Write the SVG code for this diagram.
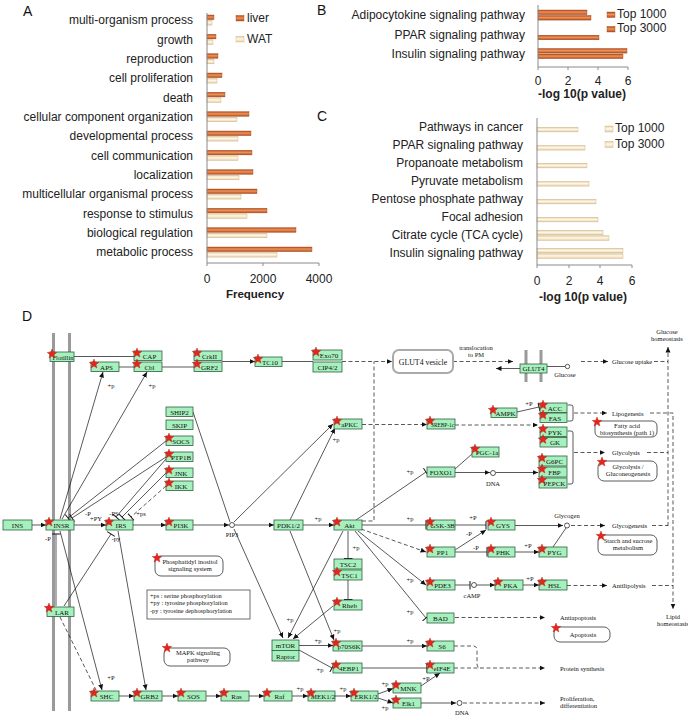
<svg xmlns="http://www.w3.org/2000/svg" width="688" height="720" viewBox="0 0 688 720">
<defs>
<linearGradient id="gL" x1="0" y1="0" x2="0" y2="1"><stop offset="0" stop-color="#B24A1C"/><stop offset="0.45" stop-color="#EE9459"/><stop offset="1" stop-color="#B24A1C"/></linearGradient>
<linearGradient id="gW" x1="0" y1="0" x2="0" y2="1"><stop offset="0" stop-color="#E6CFA2"/><stop offset="0.45" stop-color="#FFF8EA"/><stop offset="1" stop-color="#E6CFA2"/></linearGradient>
<marker id="a" viewBox="0 0 10 10" refX="10" refY="5" markerWidth="5.5" markerHeight="5.5" markerUnits="userSpaceOnUse" orient="auto"><path d="M0,0.5 L10,5 L0,9.5 z" fill="#111"/></marker>
<marker id="b" viewBox="0 0 10 10" refX="5" refY="5" markerWidth="9" markerHeight="9" markerUnits="userSpaceOnUse" orient="auto"><path d="M5,0 V10" stroke="#111" stroke-width="1.1"/></marker>
<path id="st" d="M0,-5 L1.23,-1.69 L4.76,-1.55 L1.99,0.65 L2.94,4.05 L0,2.1 L-2.94,4.05 L-1.99,0.65 L-4.76,-1.55 L-1.23,-1.69 Z" fill="#E8251B" stroke="#B41410" stroke-width="0.4"/>
</defs>
<style>
.lab{font-family:"Liberation Sans",Arial,sans-serif;font-size:12px;fill:#222}
.end{text-anchor:end}
.mid{text-anchor:middle}
.ttl{font-family:"Liberation Sans",Arial,sans-serif;font-size:14px;fill:#111}
.bold{font-weight:bold}
.ax{stroke:#8a8a8a;stroke-width:1;fill:none}
.lv{fill:url(#gL);stroke:#A3451C;stroke-width:0.4}
.wt{fill:url(#gW);stroke:#C4AD84;stroke-width:0.4}
.nd rect{fill:#A6F0BE;stroke:#2F5F3F;stroke-width:0.8}
.nd text{font-family:"Liberation Serif","Times New Roman",serif;font-size:7px;fill:#111;text-anchor:middle}
.t{font-family:"Liberation Serif","Times New Roman",serif;font-size:6.5px;fill:#111;text-anchor:middle}
.ts{text-anchor:start}
.e{stroke:#111;stroke-width:0.7;fill:none}
.d{stroke-dasharray:4 2.5}
.ar{marker-end:url(#a)}
.tb{marker-end:url(#b)}
.c{fill:#fff;stroke:#111;stroke-width:0.7}
.mem{stroke:#9a9a9a;stroke-width:3}
.ann rect{fill:#fff;stroke:#333;stroke-width:0.8}
.ann text{font-family:"Liberation Serif","Times New Roman",serif;font-size:6.5px;fill:#111;text-anchor:middle}
</style>
<rect width="688" height="720" fill="#fff"/>

<!-- Panel A -->
<g id="chartA">
<text class="ttl" x="23" y="16">A</text>
<g class="lab end">
<text x="193" y="24.2">multi-organism process</text>
<text x="193" y="43.5">growth</text>
<text x="193" y="62.9">reproduction</text>
<text x="193" y="82.2">cell proliferation</text>
<text x="193" y="101.5">death</text>
<text x="193" y="120.9">cellular component organization</text>
<text x="193" y="140.2">developmental process</text>
<text x="193" y="159.5">cell communication</text>
<text x="193" y="178.9">localization</text>
<text x="193" y="198.2">multicellular organismal process</text>
<text x="193" y="217.5">response to stimulus</text>
<text x="193" y="236.9">biological regulation</text>
<text x="193" y="256.2">metabolic process</text>
</g>
<g>
<rect class="lv" x="207" y="15" width="7" height="4.6"/><rect class="wt" x="207" y="20.5" width="5" height="4.6"/>
<rect class="lv" x="207" y="34.3" width="9" height="4.6"/><rect class="wt" x="207" y="39.8" width="6" height="4.6"/>
<rect class="lv" x="207" y="53.7" width="11" height="4.6"/><rect class="wt" x="207" y="59.2" width="7" height="4.6"/>
<rect class="lv" x="207" y="73" width="15" height="4.6"/><rect class="wt" x="207" y="78.5" width="10" height="4.6"/>
<rect class="lv" x="207" y="92.3" width="18" height="4.6"/><rect class="wt" x="207" y="97.8" width="14" height="4.6"/>
<rect class="lv" x="207" y="111.7" width="42" height="4.6"/><rect class="wt" x="207" y="117.2" width="30" height="4.6"/>
<rect class="lv" x="207" y="131" width="44" height="4.6"/><rect class="wt" x="207" y="136.5" width="31" height="4.6"/>
<rect class="lv" x="207" y="150.3" width="45" height="4.6"/><rect class="wt" x="207" y="155.8" width="31" height="4.6"/>
<rect class="lv" x="207" y="169.7" width="46" height="4.6"/><rect class="wt" x="207" y="175.2" width="32" height="4.6"/>
<rect class="lv" x="207" y="189" width="50" height="4.6"/><rect class="wt" x="207" y="194.5" width="34" height="4.6"/>
<rect class="lv" x="207" y="208.3" width="60" height="4.6"/><rect class="wt" x="207" y="213.8" width="40" height="4.6"/>
<rect class="lv" x="207" y="227.7" width="89" height="4.6"/><rect class="wt" x="207" y="233.2" width="60" height="4.6"/>
<rect class="lv" x="207" y="247" width="105" height="4.6"/><rect class="wt" x="207" y="252.5" width="70" height="4.6"/>
</g>
<path class="ax" d="M207,13 V263 H319 M263,263 V266 M319,263 V266 M207,263 V266"/>
<g class="lab mid">
<text x="207" y="283">0</text><text x="263" y="283">2000</text><text x="319" y="283">4000</text>
<text class="bold" x="255" y="298" style="font-size:11.5px">Frequency</text>
</g>
<rect class="lv" x="236" y="15.5" width="8" height="5.5"/><text class="lab" x="247" y="22">liver</text>
<rect class="wt" x="236" y="36.5" width="8" height="5.5"/><text class="lab" x="247" y="43">WAT</text>
</g>

<!-- Panel B -->
<g id="chartB">
<text class="ttl" x="317" y="15">B</text>
<g class="lab end">
<text x="525" y="19">Adipocytokine signaling pathway</text>
<text x="525" y="39">PPAR signaling pathway</text>
<text x="525" y="58">Insulin signaling pathway</text>
</g>
<rect class="lv" x="538" y="10" width="49" height="4.6"/><rect class="lv" x="538" y="15.5" width="53" height="4.6"/>
<rect class="lv" x="538" y="35.2" width="61" height="4.6"/>
<rect class="lv" x="538" y="48.5" width="89" height="4.6"/><rect class="lv" x="538" y="54" width="85" height="4.6"/>
<path class="ax" d="M538,5 V67 H628 M538,67 V70 M568,67 V70 M598,67 V70 M628,67 V70"/>
<g class="lab mid">
<text x="538" y="85">0</text><text x="568" y="85">2</text><text x="598" y="85">4</text><text x="628" y="85">6</text>
<text class="bold" x="582" y="98">-log 10(p value)</text>
</g>
<rect class="lv" x="607" y="12" width="8" height="5.5"/><text class="lab" x="617" y="18">Top 1000</text>
<rect class="lv" x="607" y="26.5" width="8" height="5.5"/><text class="lab" x="617" y="32">Top 3000</text>
</g>

<!-- Panel C -->
<g id="chartC">
<text class="ttl" x="317" y="121">C</text>
<g class="lab end">
<text x="523" y="131">Pathways in cancer</text>
<text x="523" y="149">PPAR signaling pathway</text>
<text x="523" y="167">Propanoate metabolism</text>
<text x="523" y="185">Pyruvate metabolism</text>
<text x="523" y="203">Pentose phosphate pathway</text>
<text x="523" y="221">Focal adhesion</text>
<text x="523" y="239">Citrate cycle (TCA cycle)</text>
<text x="523" y="257">Insulin signaling pathway</text>
</g>
<rect class="wt" x="537" y="127.3" width="41" height="4.6"/>
<rect class="wt" x="537" y="145.5" width="48" height="4.6"/>
<rect class="wt" x="537" y="163.3" width="50" height="4.6"/>
<rect class="wt" x="537" y="181.5" width="52" height="4.6"/>
<rect class="wt" x="537" y="199.3" width="59" height="4.6"/>
<rect class="wt" x="537" y="217.3" width="61" height="4.6"/>
<rect class="wt" x="537" y="230.3" width="66" height="4.6"/><rect class="wt" x="537" y="235.8" width="72" height="4.6"/>
<rect class="wt" x="537" y="248.3" width="86" height="4.6"/><rect class="wt" x="537" y="253.8" width="86" height="4.6"/>
<path class="ax" d="M537,118 V265 H632 M537,265 V268 M569,265 V268 M600,265 V268 M632,265 V268"/>
<g class="lab mid">
<text x="537" y="285">0</text><text x="569" y="285">2</text><text x="600" y="285">4</text><text x="632" y="285">6</text>
<text class="bold" x="583" y="301">-log 10(p value)</text>
</g>
<rect class="wt" x="605" y="126" width="8" height="6"/><text class="lab" x="615" y="132">Top 1000</text>
<rect class="wt" x="605" y="141.5" width="8" height="6"/><text class="lab" x="615" y="148">Top 3000</text>
</g>

<!-- Panel D -->
<text class="ttl" x="22" y="321">D</text>
<g id="membranes">
<path class="mem" d="M53.5,333 V711 M69.5,333 V711"/>
<path class="mem" d="M526,350 V382 M541,350 V382"/>
</g>

<g id="connectors">
<path class="e" d="M74,356.5 H134"/>
<path class="e" d="M119,367 H134"/>
<path class="e" d="M162,367 H194"/>
<path class="e ar" d="M222,361.5 H255"/>
<path class="e" d="M282,361.5 H313"/>
<path class="e d ar" d="M342,361.5 H392"/>
<path class="e d ar" d="M453,361.5 H513"/>
<path class="e ar" d="M520,368.5 H496"/>
<path class="e" d="M547,366.5 H565"/>
<circle class="c" cx="567.5" cy="366.5" r="2.2"/>
<path class="e d ar" d="M581,361.5 H608"/>
<path class="e d" d="M654,361.5 H668"/>
<path class="e d ar" d="M668,526 V347"/>
<path class="e d ar" d="M574,413 H607"/>
<path class="e d ar" d="M650,413 H673 V609"/>
<path class="e" d="M567.5,405 H571 Q573,405 573,407 V419 Q573,421 571,421 H567.5"/>
<path class="e" d="M567.5,431 H571 Q573,431 573,433 V482 Q573,484 571,484 H567.5"/>
<path class="e d ar" d="M574,452.5 H605"/>
<path class="e d" d="M647,452.5 H668"/>
<path class="e d ar" d="M571,525.5 H605"/>
<path class="e d" d="M652,525.5 H668"/>

<path class="e ar" d="M60,519 L103,372"/>
<path class="e ar" d="M62,519 L147,372"/>
<text class="t" x="111" y="388">+p</text>
<text class="t" x="152" y="388">+p</text>

<path class="e tb" d="M166,441 L68,518"/>
<path class="e tb" d="M166,457 L72,518"/>
<path class="e tb" d="M166,459 L116,517"/>
<path class="e tb" d="M166,473 L122,517"/>
<path class="e d tb" d="M166,486 L131,517"/>
<path class="e" d="M193,412 L230,522"/>
<text class="t" x="88" y="516">-P</text>
<text class="t" x="96" y="521">+PY</text>
<text class="t" x="114" y="516">-PS</text>
<text class="t" x="141" y="516">+ps</text>

<path class="e ar" d="M32,525 H46"/>
<path class="e ar" d="M74,525 H106"/>
<path class="e ar" d="M133,525 H166"/>
<path class="e ar" d="M193,525 H229"/>
<circle class="c" cx="232" cy="525" r="2.5"/>
<text class="t" x="232" y="537">PIP3</text>
<path class="e ar" d="M235,525 H274"/>
<path class="e ar" d="M303,525 H334"/>
<text class="t" x="318" y="521">+p</text>
<path class="e ar" d="M234,522 L333,424"/>
<path class="e ar" d="M290,520 L335,428"/>
<text class="t" x="336" y="442">+p</text>
<path class="e d" d="M362,521 H374 V361.5"/>
<path class="e d ar" d="M362,424.5 H427"/>
<path class="e d ar" d="M455,425 H538"/>
<path class="e tb" d="M517,412 L539,407"/>
<text class="t" x="529" y="406">+P</text>

<path class="e tb" d="M356,520 L426,472"/>
<text class="t" x="410" y="474">+p</text>
<path class="e ar" d="M455,472.5 H490"/>
<circle class="c" cx="493" cy="473" r="2.5"/>
<text class="t" x="493" y="486">DNA</text>
<path class="e ar" d="M496,472.5 H538"/>
<path class="e" d="M455,469 L472,454"/>
<path class="e tb" d="M362,525 H426"/>
<text class="t" x="410" y="521">+p</text>
<path class="e tb" d="M455,525 H486"/>
<text class="t" x="473" y="520">+P</text>
<path class="e d ar" d="M361,529 L426,552"/>
<path class="e ar" d="M455,550 L486,530"/>
<text class="t" x="469" y="536">-P</text>
<path class="e tb" d="M455,552 H487"/>
<text class="t" x="476" y="550">-P</text>
<path class="e ar" d="M515,552 H539"/>
<text class="t" x="528" y="548">+P</text>
<path class="e ar" d="M515,525.5 H563"/>
<circle class="c" cx="567" cy="525.5" r="2.5"/>
<text class="t" x="567" y="518">Glycogen</text>
<path class="e" d="M553,547 L566,528"/>

<path class="e ar" d="M358,531 L426,585"/>
<text class="t" x="410" y="582">+p</text>
<path class="e tb" d="M355,531 L426,618"/>
<text class="t" x="410" y="614">+p</text>
<path class="e tb" d="M348,531 V558.5"/>
<text class="t" x="356" y="550">+p</text>
<path class="e tb" d="M348,580 V599.5"/>

<path class="e tb" d="M455,585 H470"/>
<circle class="c" cx="474" cy="585" r="2.5"/>
<text class="t" x="472" y="598">cAMP</text>
<path class="e ar" d="M477,585 H495"/>
<path class="e ar" d="M523,585 H539"/>
<text class="t" x="530" y="581">+P</text>
<path class="e d ar" d="M567,585.5 H607"/>
<path class="e d" d="M652,585.5 H673"/>
<path class="e d ar" d="M455,617.5 H545"/>

<path class="e ar" d="M234,529 L283,638"/>
<path class="e ar" d="M343,531 L288,638"/>
<path class="e ar" d="M333,606 L293,639"/>
<text class="t" x="290" y="622">+p</text>
<path class="e ar" d="M290,531 L334,640"/>
<text class="t" x="337" y="633">+p</text>
<path class="e ar" d="M299,645.5 H333"/>
<text class="t" x="318" y="643">+p</text>
<path class="e tb" d="M299,650 L332,668"/>
<text class="t" x="320" y="672">+p</text>
<path class="e ar" d="M362,646 H427"/>
<text class="t" x="410" y="643">+p</text>
<path class="e tb" d="M362,668 H427"/>
<path class="e d" d="M454,646 H473 Q477,646 477,650 V664 Q477,668 481,668"/>
<path class="e d ar" d="M454,668 H545"/>
<path class="e ar" d="M421,686 L440,673"/>
<text class="t" x="426" y="681">+P</text>

<path class="e ar" d="M119,696 H134"/>
<path class="e ar" d="M162,696 H178"/>
<path class="e ar" d="M206,696 H221"/>
<path class="e ar" d="M249,696 H264"/>
<path class="e ar" d="M292,696 H308"/>
<text class="t" x="300" y="691">+p</text>
<path class="e ar" d="M335,696 H351"/>
<text class="t" x="343" y="691">+p</text>
<path class="e ar" d="M378,694 L393,688.5"/>
<text class="t" x="385" y="686">+p</text>
<path class="e ar" d="M378,698 L393,703"/>
<text class="t" x="385" y="710">+p</text>
<path class="e ar" d="M421,703 H456"/>
<circle class="c" cx="459.5" cy="703" r="2.5"/>
<text class="t" x="462" y="715">DNA</text>
<path class="e d ar" d="M463,703 H545"/>

<path class="e ar" d="M60,531 L102,690"/>
<text class="t" x="111" y="680">+P</text>
<path class="e ar" d="M118,531 L146,690"/>
<path class="e tb" d="M56,606 V534"/>
<text class="t" x="48" y="541">-P</text>
<path class="e tb" d="M64,606 L111,534"/>
<text class="t" x="116" y="541">-py</text>
<path class="e d" d="M60,617 L96,690"/>
</g>

<g id="texts">
<text class="t" x="476" y="350">translocation</text>
<text class="t" x="476" y="357">to PM</text>
<text class="t" x="565" y="377">Glucose</text>
<text class="t ts" x="612" y="364">Glucose uptake</text>
<text class="t" x="667" y="334">Glucose</text>
<text class="t" x="667" y="341">homeostasis</text>
<text class="t ts" x="612" y="415.5">Lipogenesis</text>
<text class="t ts" x="612" y="455">Glycolysis</text>
<text class="t ts" x="612" y="528">Glycogenesis</text>
<text class="t ts" x="612" y="588">Antilipolysis</text>
<text class="t" x="673" y="619">Lipid</text>
<text class="t" x="673" y="626">homeostasis</text>
<text class="t ts" x="560" y="620">Antiapoptosis</text>
<text class="t ts" x="560" y="671">Protein synthesis</text>
<text class="t ts" x="560" y="701">Proliferation,</text>
<text class="t ts" x="560" y="708">differentiation</text>
</g>

<g id="annotations">
<g id="pis" class="ann"><rect x="155" y="556" width="68" height="20" rx="6"/><text x="190" y="564">Phosphatidyl inositol</text><text x="190" y="571">signaling system</text><use href="#st" x="157" y="558"/></g>
<g id="mapk" class="ann"><rect x="164" y="648" width="66" height="18" rx="6"/><text x="198" y="655">MAPK signaling</text><text x="198" y="662">pathway</text><use href="#st" x="167" y="648"/></g>
<g id="glyco" class="ann"><rect x="598" y="461" width="59" height="20" rx="6"/><text x="628" y="469">Glycolysis /</text><text x="628" y="476">Gluconeogenesis</text><use href="#st" x="602" y="462"/></g>
<g id="fab" class="ann"><rect x="595" y="421" width="62" height="16" rx="5"/><text x="627" y="428">Fatty acid</text><text x="627" y="434.5">biosynthesis (path 1)</text><use href="#st" x="597" y="422"/></g>
<g id="starch" class="ann"><rect x="598" y="535" width="59" height="20" rx="6"/><text x="628" y="543">Starch and sucrose</text><text x="628" y="550">metabolism</text><use href="#st" x="601" y="536"/></g>
<g id="apop" class="ann"><rect x="554" y="627" width="56" height="15" rx="6"/><text x="583" y="637">Apoptosis</text><use href="#st" x="556" y="628"/></g>
<g id="glut4ves"><rect x="393" y="350" width="60" height="23" rx="6" fill="#fff" stroke="#aaa" stroke-width="2"/><text class="t" x="423" y="364.5" style="font-size:7.8px">GLUT4 vesicle</text></g>
<g id="legend"><rect x="147" y="590" width="103" height="29" fill="#fff" stroke="#333" stroke-width="0.7"/>
<text class="t ts" x="150" y="598" style="font-size:6.3px">+ps : serine phosphorylation</text>
<text class="t ts" x="150" y="605" style="font-size:6.3px">+py : tyrosine phosphorylation</text>
<text class="t ts" x="150" y="612.5" style="font-size:6.3px">-py : tyrosine dephosphorylation</text></g>
</g>

<g id="nodes">
<g id="Flotillin" class="nd"><rect x="50" y="352" width="24" height="9.5"/><text x="63" y="359.5" textLength="21" lengthAdjust="spacingAndGlyphs">Flotillin</text><use href="#st" x="52" y="354"/></g>
<g id="APS" class="nd"><rect x="91" y="362" width="28" height="9.5"/><text x="106.5" y="369.5">APS</text><use href="#st" x="94" y="364"/></g>
<g id="CAP" class="nd"><rect x="134" y="351" width="28" height="9.5"/><text x="149.5" y="358.5">CAP</text><use href="#st" x="137" y="353"/></g>
<g id="Cbl" class="nd"><rect x="134" y="362" width="28" height="9.5"/><text x="149.5" y="369.5">Cbl</text><use href="#st" x="137" y="364"/></g>
<g id="CrkII" class="nd"><rect x="194" y="351" width="28" height="9.5"/><text x="209.5" y="358.5">CrkII</text><use href="#st" x="197" y="353"/></g>
<g id="GRF2" class="nd"><rect x="194" y="362" width="28" height="9.5"/><text x="209.5" y="369.5">GRF2</text><use href="#st" x="197" y="364"/></g>
<g id="TC10" class="nd"><rect x="255" y="357" width="27" height="9.5"/><text x="270" y="364.5">TC10</text><use href="#st" x="258" y="359"/></g>
<g id="Exo70" class="nd"><rect x="313" y="350" width="29" height="10"/><text x="329" y="357.5">Exo70</text><use href="#st" x="316" y="352"/></g>
<g id="CIP4_2" class="nd"><rect x="313" y="362" width="29" height="10"/><text x="327.5" y="369.5">CIP4/2</text></g>
<g id="GLUT4" class="nd"><rect x="520" y="364" width="27" height="9"/><text x="533.5" y="371">GLUT4</text></g>
<g id="SHIP2" class="nd"><rect x="166" y="407" width="27" height="9.5"/><text x="179.5" y="414.5">SHIP2</text></g>
<g id="SKIP" class="nd"><rect x="166" y="420" width="27" height="9.5"/><text x="179.5" y="427.5">SKIP</text></g>
<g id="SOCS" class="nd"><rect x="166" y="436" width="27" height="9.5"/><text x="181" y="443.5">SOCS</text><use href="#st" x="169" y="438"/></g>
<g id="PTP1B" class="nd"><rect x="166" y="452" width="27" height="9.5"/><text x="181" y="459.5">PTP1B</text><use href="#st" x="169" y="454"/></g>
<g id="JNK" class="nd"><rect x="166" y="468" width="27" height="9.5"/><text x="181" y="475.5">JNK</text><use href="#st" x="169" y="470"/></g>
<g id="IKK" class="nd"><rect x="166" y="481" width="27" height="9.5"/><text x="181" y="488.5">IKK</text><use href="#st" x="169" y="483"/></g>
<g id="INS" class="nd"><rect x="3" y="520" width="29" height="10"/><text x="17.5" y="527.5">INS</text></g>
<g id="INSR" class="nd"><rect x="46" y="520" width="28" height="10"/><text x="61.5" y="527.5">INSR</text><use href="#st" x="49" y="522"/></g>
<g id="IRS" class="nd"><rect x="106" y="520" width="27" height="10"/><text x="121" y="527.5">IRS</text><use href="#st" x="109" y="522"/></g>
<g id="PI3K" class="nd"><rect x="166" y="520" width="27" height="10"/><text x="181" y="527.5">PI3K</text><use href="#st" x="169" y="522"/></g>
<g id="PDK1_2" class="nd"><rect x="274" y="520" width="29" height="10"/><text x="288.5" y="527.5">PDK1/2</text></g>
<g id="Akt" class="nd"><rect x="334" y="520" width="28" height="10"/><text x="349.5" y="527.5">Akt</text><use href="#st" x="337" y="522"/></g>
<g id="aPKC" class="nd"><rect x="334" y="419" width="28" height="10"/><text x="349.5" y="426.5">aPKC</text><use href="#st" x="337" y="421"/></g>
<g id="SREBP-1c" class="nd"><rect x="427" y="419" width="28" height="10"/><text x="442.5" y="426.5" textLength="23" lengthAdjust="spacingAndGlyphs">SREBP-1c</text><use href="#st" x="430" y="421"/></g>
<g id="FOXO1" class="nd"><rect x="427" y="467" width="28" height="10"/><text x="441" y="474.5">FOXO1</text></g>
<g id="PGC-1a" class="nd"><rect x="472" y="447" width="27" height="10"/><text x="487" y="454.5">PGC-1a</text><use href="#st" x="475" y="449"/></g>
<g id="GSK-3B" class="nd"><rect x="427" y="520" width="28" height="10"/><text x="442.5" y="527.5">GSK-3B</text><use href="#st" x="430" y="522"/></g>
<g id="PP1" class="nd"><rect x="427" y="547" width="28" height="10"/><text x="442.5" y="554.5">PP1</text><use href="#st" x="430" y="549"/></g>
<g id="PDE3" class="nd"><rect x="427" y="580" width="28" height="10"/><text x="442.5" y="587.5">PDE3</text><use href="#st" x="430" y="582"/></g>
<g id="AMPK" class="nd"><rect x="491" y="408" width="26" height="9.5"/><text x="505.5" y="415.5">AMPK</text><use href="#st" x="493" y="410"/></g>
<g id="ACC" class="nd"><rect x="540" y="403" width="27" height="9.5"/><text x="555" y="410.5">ACC</text><use href="#st" x="543" y="405"/></g>
<g id="FAS" class="nd"><rect x="540" y="413" width="27" height="9.5"/><text x="555" y="420.5">FAS</text><use href="#st" x="543" y="415"/></g>
<g id="PYK" class="nd"><rect x="540" y="427" width="27" height="9.5"/><text x="555" y="434.5">PYK</text><use href="#st" x="543" y="429"/></g>
<g id="GK" class="nd"><rect x="540" y="437.5" width="27" height="9.5"/><text x="555" y="445">GK</text><use href="#st" x="543" y="439.5"/></g>
<g id="G6PC" class="nd"><rect x="539" y="456" width="28" height="10"/><text x="554.5" y="463.5">G6PC</text><use href="#st" x="542" y="458"/></g>
<g id="FBP" class="nd"><rect x="539" y="467" width="28" height="10"/><text x="554.5" y="474.5">FBP</text><use href="#st" x="542" y="469"/></g>
<g id="PEPCK" class="nd"><rect x="539" y="478" width="28" height="10"/><text x="554.5" y="485.5">PEPCK</text><use href="#st" x="542" y="480"/></g>
<g id="GYS" class="nd"><rect x="488" y="520" width="27" height="10"/><text x="503" y="527.5">GYS</text><use href="#st" x="491" y="522"/></g>
<g id="PHK" class="nd"><rect x="488" y="547" width="27" height="10"/><text x="503" y="554.5">PHK</text><use href="#st" x="491" y="549"/></g>
<g id="PYG" class="nd"><rect x="539" y="547" width="28" height="10"/><text x="554.5" y="554.5">PYG</text><use href="#st" x="542" y="549"/></g>
<g id="TSC2" class="nd"><rect x="334" y="559" width="28" height="10"/><text x="348" y="566.5">TSC2</text></g>
<g id="TSC1" class="nd"><rect x="334" y="570" width="28" height="10"/><text x="349.5" y="577.5">TSC1</text><use href="#st" x="337" y="572"/></g>
<g id="Rheb" class="nd"><rect x="334" y="600" width="28" height="10"/><text x="349.5" y="607.5">Rheb</text><use href="#st" x="337" y="602"/></g>
<g id="BAD" class="nd"><rect x="427" y="613" width="27" height="10"/><text x="440.5" y="620.5">BAD</text></g>
<g id="PKA" class="nd"><rect x="495" y="580" width="28" height="10"/><text x="510.5" y="587.5">PKA</text><use href="#st" x="498" y="582"/></g>
<g id="HSL" class="nd"><rect x="539" y="580" width="28" height="10"/><text x="554.5" y="587.5">HSL</text><use href="#st" x="542" y="582"/></g>
<g id="LAR" class="nd"><rect x="47" y="607" width="27" height="9.5"/><text x="62" y="614.5">LAR</text><use href="#st" x="49" y="608"/></g>
<g id="mTOR" class="nd"><rect x="272" y="640" width="27" height="10.5"/><text x="285.5" y="648">mTOR</text></g>
<g id="Raptor" class="nd"><rect x="272" y="650.5" width="27" height="10.5"/><text x="285.5" y="658.5">Raptor</text></g>
<g id="p70S6K" class="nd"><rect x="333" y="641" width="29" height="10"/><text x="349" y="648.5">p70S6K</text><use href="#st" x="336" y="643"/></g>
<g id="4EBP1" class="nd"><rect x="333" y="663" width="29" height="10"/><text x="349" y="670.5">4EBP1</text><use href="#st" x="336" y="665"/></g>
<g id="S6" class="nd"><rect x="427" y="641" width="27" height="10"/><text x="442" y="648.5">S6</text><use href="#st" x="430" y="643"/></g>
<g id="eIF4E" class="nd"><rect x="427" y="663" width="27" height="10"/><text x="442" y="670.5">eIF4E</text><use href="#st" x="430" y="665"/></g>
<g id="SHC" class="nd"><rect x="91" y="691" width="28" height="10"/><text x="106.5" y="698.5">SHC</text><use href="#st" x="94" y="693"/></g>
<g id="GRB2" class="nd"><rect x="134" y="691" width="28" height="10"/><text x="149.5" y="698.5">GRB2</text><use href="#st" x="137" y="693"/></g>
<g id="SOS" class="nd"><rect x="178" y="691" width="28" height="10"/><text x="193.5" y="698.5">SOS</text><use href="#st" x="181" y="693"/></g>
<g id="Ras" class="nd"><rect x="221" y="691" width="28" height="10"/><text x="236.5" y="698.5">Ras</text><use href="#st" x="224" y="693"/></g>
<g id="Raf" class="nd"><rect x="264" y="691" width="28" height="10"/><text x="279.5" y="698.5">Raf</text><use href="#st" x="267" y="693"/></g>
<g id="MEK1_2" class="nd"><rect x="308" y="691" width="27" height="10"/><text x="323" y="698.5">MEK1/2</text><use href="#st" x="311" y="693"/></g>
<g id="ERK1_2" class="nd"><rect x="351" y="691" width="27" height="10"/><text x="366" y="698.5">ERK1/2</text><use href="#st" x="354" y="693"/></g>
<g id="MNK" class="nd"><rect x="393" y="683" width="28" height="10"/><text x="408.5" y="690.5">MNK</text><use href="#st" x="396" y="685"/></g>
<g id="Elk1" class="nd"><rect x="393" y="698" width="28" height="10"/><text x="408.5" y="705.5">Elk1</text><use href="#st" x="396" y="700"/></g>
</g>
</svg>
